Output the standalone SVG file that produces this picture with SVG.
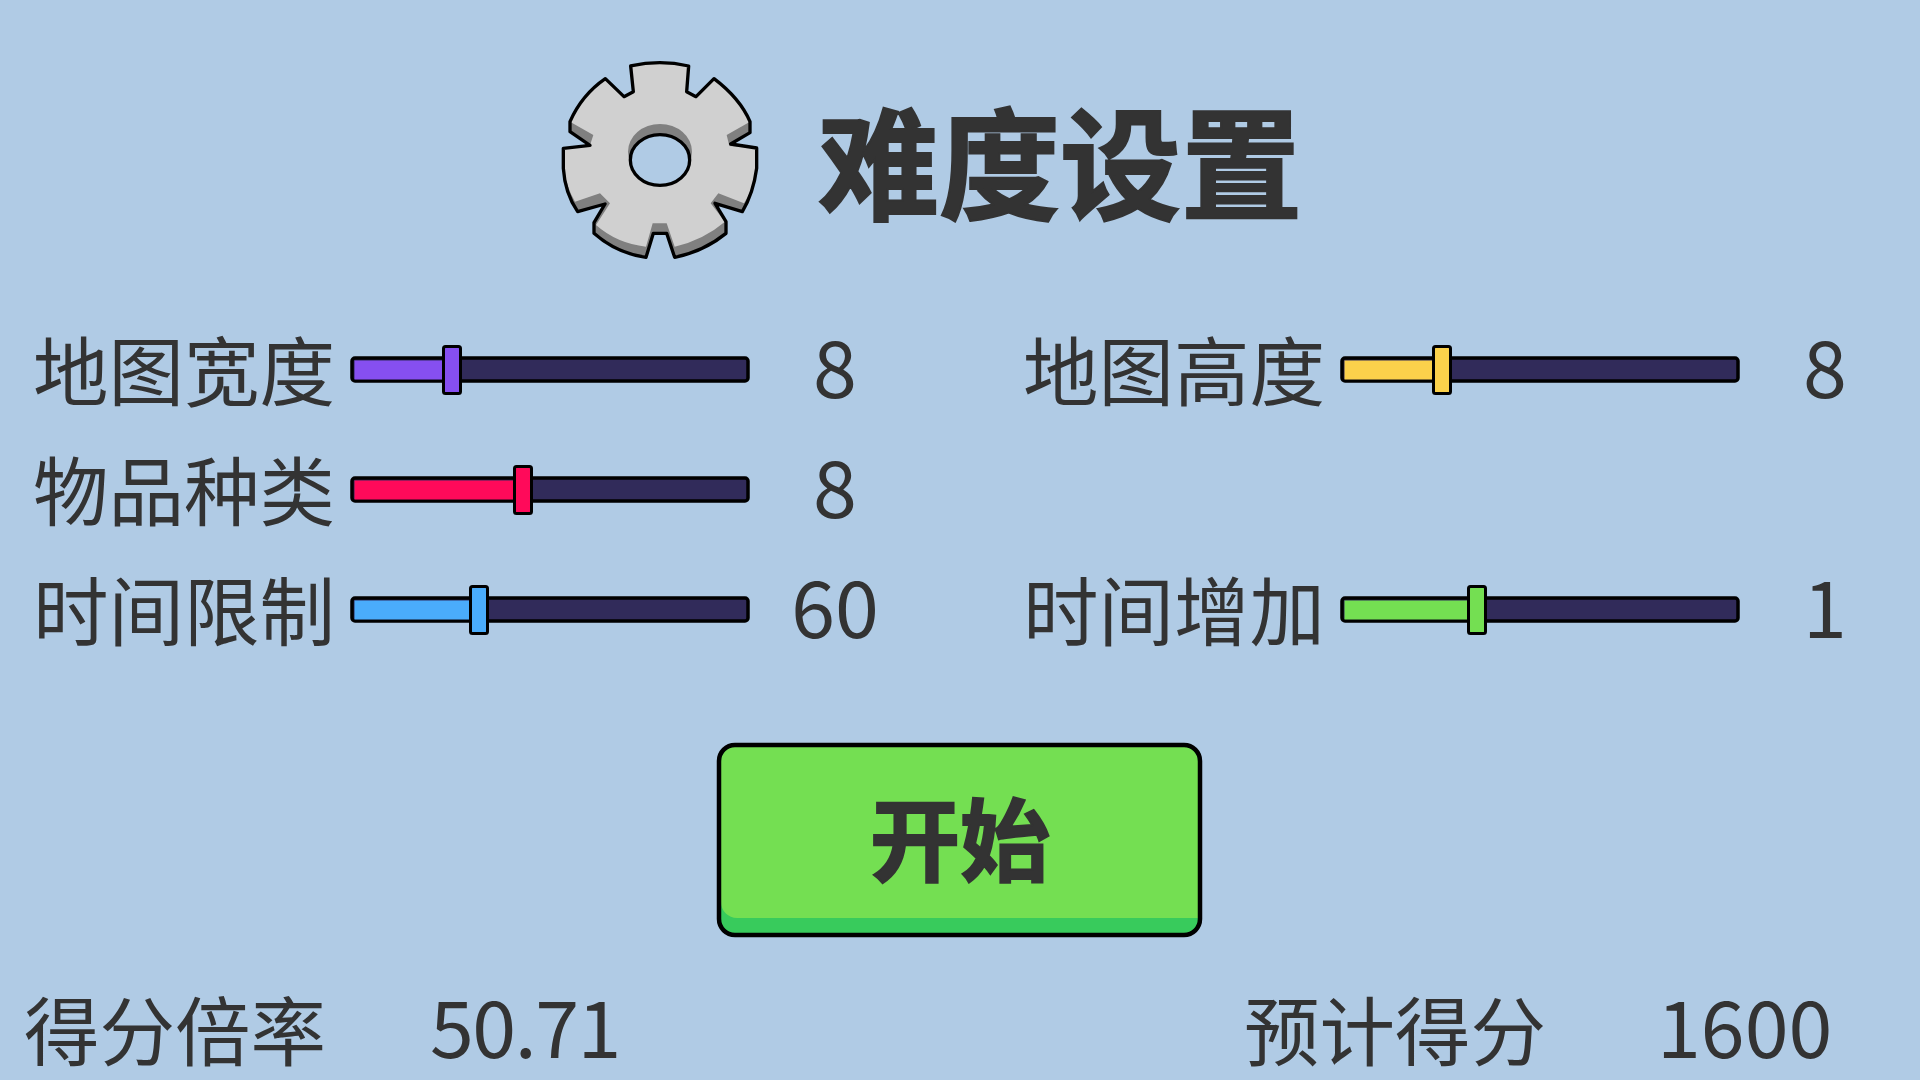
<svg xmlns="http://www.w3.org/2000/svg" width="1920" height="1080" viewBox="0 0 1920 1080">
<style>
text{font-family:"Noto Sans CJK SC","Noto Sans",sans-serif;fill:#333}
.l{font-size:75.500px}
.n{font-size:79px;text-anchor:middle}
.v{font-size:79px}
.b{font-weight:700;stroke:#333;stroke-width:2}
.track{fill:#312b5a;stroke:#000;stroke-width:3.5}
.thumb{stroke:#000;stroke-width:3}
</style>
<defs>
<g id="tr"><rect class="track" x="352" y="358" width="396" height="23" rx="3"/></g>
</defs>
<rect width="1920" height="1080" fill="#b0cbe5"/>
<g id="gear" transform="translate(540 40) scale(.33333)">
<path d="M272 78Q360 58 446 78L440 155 468 170 522 116Q600 175 630 245V278L572 312 650 324V385Q640 460 607 515L525 490 558 545V580Q490 635 404 652L380 580H340L318 652Q230 640 162 580V548L195 492 113 515Q75 460 70 385V325L150 316 90 275V245Q125 165 196 116L252 170 280 155Z" fill="#808080"/>
<path d="M272 78Q360 58 446 78L440 155 468 170 522 116Q600 175 630 245L560 285 568 318 650 324V385Q645 440 612 490L535 460 512 490 555 545Q490 600 404 620L380 550H338L318 620Q230 610 168 555L210 490 180 460 105 485Q78 440 72 385L70 325 150 316 160 285 90 245Q125 165 196 116L252 170 280 155Z" fill="#d0d0d0"/>
<path d="M272 78Q360 58 446 78L440 155 468 170 522 116Q600 175 630 245V278L572 312 650 324V385Q640 460 607 515L525 490 558 545V580Q490 635 404 652L380 580H340L318 652Q230 640 162 580V548L195 492 113 515Q75 460 70 385V325L150 316 90 275V245Q125 165 196 116L252 170 280 155Z" fill="none" stroke="#000" stroke-width="10" stroke-linejoin="round"/>
<ellipse cx="360" cy="335" rx="96" ry="83" fill="#808080"/>
<ellipse cx="360" cy="360" rx="89" ry="76" fill="#b0cbe5" stroke="#000" stroke-width="10"/>
</g>
<g id="title"><text class="b" x="818" y="210" font-size="121">难度设置</text></g>
<g id="s1"><text class="l" x="33" y="400">地图宽度</text><use href="#tr"/><rect x="354.500" y="360.500" width="90" height="19" fill="#864ff0"/><rect class="thumb" x="443.500" y="346.500" width="17" height="47" rx="2" fill="#864ff0"/><text class="n" x="835" y="398">8</text></g>
<g id="s2"><text class="l" x="1023" y="400">地图高度</text><use href="#tr" x="990"/><rect x="1344.500" y="360.500" width="90" height="19" fill="#fbd14b"/><rect class="thumb" x="1433.500" y="346.500" width="17" height="47" rx="2" fill="#fbd14b"/><text class="n" x="1825" y="398">8</text></g>
<g id="s3"><text class="l" x="33" y="520">物品种类</text><use href="#tr" y="120"/><rect x="354.500" y="480.500" width="160" height="19" fill="#ff0a5a"/><rect class="thumb" x="514.500" y="466.500" width="17" height="47" rx="2" fill="#ff0a5a"/><text class="n" x="835" y="518">8</text></g>
<g id="s4"><text class="l" x="33" y="640">时间限制</text><use href="#tr" y="240"/><rect x="354.500" y="600.500" width="118" height="19" fill="#4aacfb"/><rect class="thumb" x="470.500" y="586.500" width="17" height="47" rx="2" fill="#4aacfb"/><text class="n" x="835" y="638">60</text></g>
<g id="s5"><text class="l" x="1023" y="640">时间增加</text><use href="#tr" x="990" y="240"/><rect x="1344.500" y="600.500" width="125" height="19" fill="#74df52"/><rect class="thumb" x="1468.500" y="586.500" width="17" height="47" rx="2" fill="#74df52"/><text class="n" x="1825" y="638">1</text></g>
<g id="start">
<rect x="719" y="744" width="481" height="191" rx="16" fill="#38cb5c"/>
<path d="M721 762a16 16 0 0 1 16-16h445a16 16 0 0 1 16 16v156H737a16 16 0 0 1-16-16z" fill="#74df52"/>
<rect x="719" y="745" width="481" height="190" rx="16" fill="none" stroke="#000" stroke-width="4.500"/>
<text class="b" x="960" y="874" font-size="90" text-anchor="middle">开始</text>
</g>
<g id="f1"><text class="l" x="24" y="1060">得分倍率</text><text class="v" x="430" y="1058" letter-spacing="-1.500">50.71</text></g>
<g id="f2"><text class="l" x="1244" y="1060">预计得分</text><text class="v" x="1657" y="1058">1600</text></g>
</svg>
